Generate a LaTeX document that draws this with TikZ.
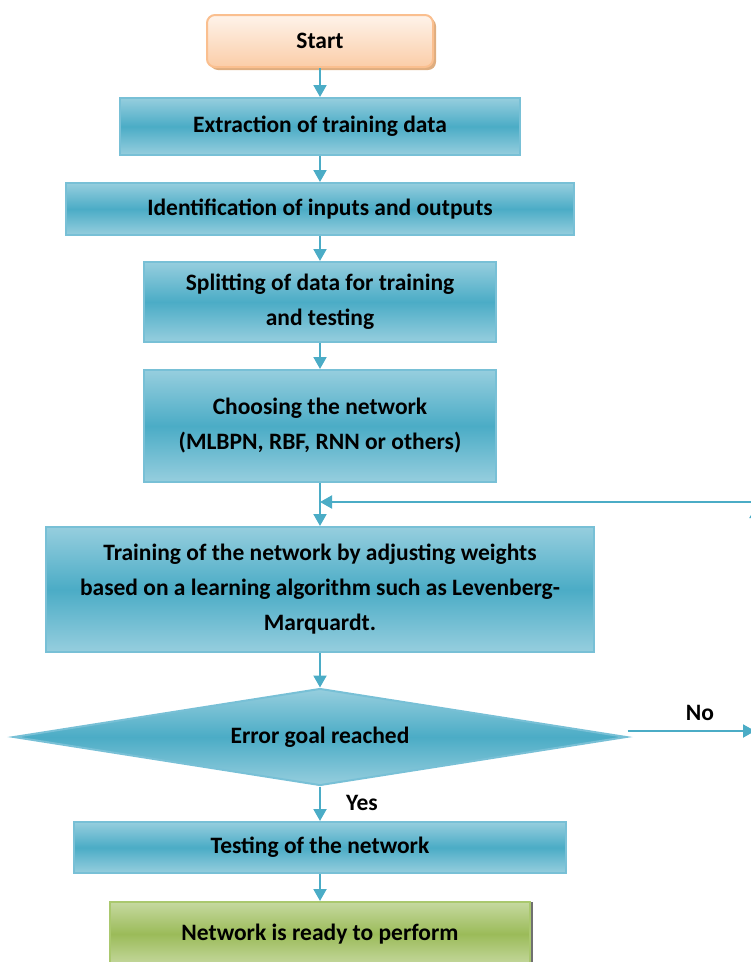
\documentclass[tikz,border=0pt]{standalone}
\usepackage{fontspec}
\setmainfont{Carlito}
\usetikzlibrary{shapes.geometric,arrows.meta,shadows}

\definecolor{aquaedge}{RGB}{120,192,214}
\definecolor{aquatop}{RGB}{150,206,222}
\definecolor{aquamid}{RGB}{75,172,198}
\definecolor{flowline}{RGB}{75,172,198}
\definecolor{greentop}{RGB}{198,217,160}
\definecolor{greenmid}{RGB}{155,187,89}
\definecolor{greenedge}{RGB}{170,200,110}
\definecolor{peachtop}{RGB}{254,243,234}
\definecolor{peachbot}{RGB}{251,205,168}
\definecolor{peachedge}{RGB}{250,191,143}

\tikzset{
  txt/.style={font=\bfseries\fontsize{23.5}{35}\selectfont, align=center},
  stepbox/.style={txt, rectangle, draw=aquaedge, line width=2pt, inner sep=0pt,
    top color=aquatop, bottom color=aquatop, middle color=aquamid},
  startbox/.style={txt, rectangle, rounded corners=8pt, draw=peachedge, line width=2pt,
    top color=peachtop, bottom color=peachbot,
    drop shadow={shadow xshift=3pt, shadow yshift=-3pt, fill=brown!60!peachedge, opacity=0.8}},
  endbox/.style={txt, rectangle, draw=greenedge, line width=2pt, inner sep=0pt,
    top color=greentop, bottom color=greentop, middle color=greenmid,
    drop shadow={shadow xshift=3pt, shadow yshift=0pt, fill=black!70, opacity=0.8}},
  decision/.style={txt, diamond, aspect=6.3, draw=aquaedge, line width=2pt, inner sep=0pt,
    top color=aquatop, bottom color=aquatop, middle color=aquamid},
  flow/.style={draw=flowline, line width=2pt, -{Triangle[width=13pt,length=12pt]}},
}

\begin{document}
\begin{tikzpicture}[x=1pt, y=-1pt]
        % Fix the page to the reference size
        \useasboundingbox (0,0) rectangle (751,962);

        % Boxes of the flow, top to bottom
        \node[startbox, minimum width=226, minimum height=52] (start) at (320,41) {Start};
        \node[stepbox, minimum width=400, minimum height=57] (extract) at (320,126.5) {Extraction of training data};
        \node[stepbox, minimum width=508, minimum height=52] (ident) at (320,209) {Identification of inputs and outputs};
        \node[stepbox, minimum width=352, minimum height=80] (split) at (320,302) {Splitting of data for training\\and testing};
        \node[stepbox, minimum width=352, minimum height=112] (choose) at (320,426) {Choosing the network\\(MLBPN, RBF, RNN or others)};
        \node[stepbox, minimum width=548, minimum height=125] (train) at (320,589.5) {Training of the network by adjusting weights\\based on a learning algorithm such as Levenberg-\\Marquardt.};
        \node[decision, minimum width=613, minimum height=97] (goal) at (320,737) {Error goal reached};
        \node[stepbox, minimum width=492, minimum height=51] (test) at (320,847.5) {Testing of the network};
        \node[endbox, minimum width=420, minimum height=64] (ready) at (320,934) {Network is ready to perform};

        % Arrows down the main line
        \draw[flow] (start.south) -- (extract.north);
        \draw[flow] (extract.south) -- (ident.north);
        \draw[flow] (ident.south) -- (split.north);
        \draw[flow] (split.south) -- (choose.north);
        \draw[flow] (choose.south) -- (train.north);
        \draw[flow] (train.south) -- (goal.north);
        \draw[flow] (goal.south) -- (test.north);
        \draw[flow] (test.south) -- (ready.north);

        % Loop back when the goal is not reached
        \coordinate (noend) at (755,731);
        \coordinate (upfoot) at (756,740);
        \coordinate (uptop) at (756,506);
        \coordinate (back) at (760,502);
        \coordinate (join) at (320,502);
        \draw[flow] (goal.east |- noend) -- (noend);
        \draw[flow] (upfoot) -- (uptop);
        \draw[flow] (back) -- (join);

        % Branch labels
        \node[txt] (nolabel) at (700,713) {No};
        \node[txt] (yeslabel) at (362,803) {Yes};
    \end{tikzpicture}
\end{document}
